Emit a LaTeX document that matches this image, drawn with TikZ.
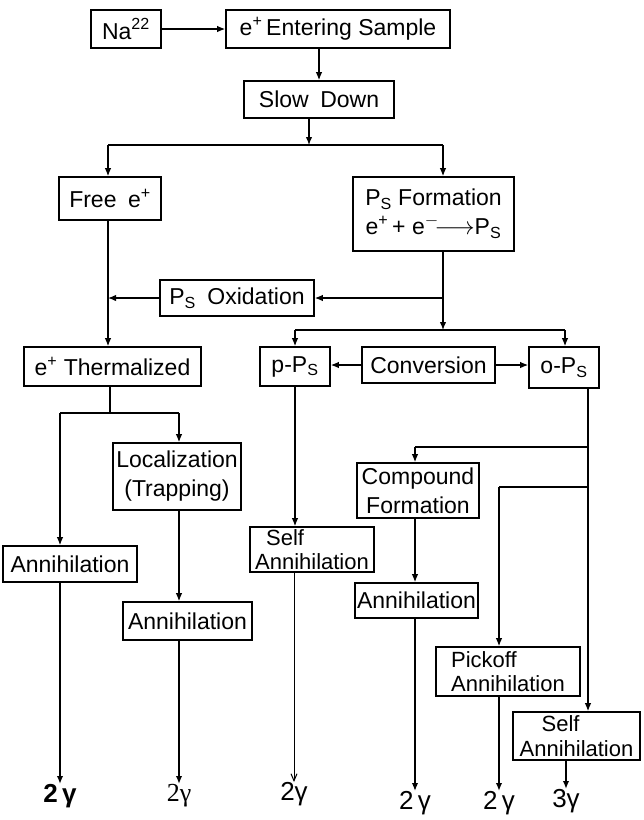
\documentclass[tikz,border=0pt]{standalone}
\usepackage{fontspec}
\setmainfont{Liberation Sans}
\newfontfamily\serifg{Liberation Serif}
\usetikzlibrary{arrows.meta,calc}
\newcommand{\PsT}{P\textsubscript{S}}
\newcommand{\ep}{e\textsuperscript{+}}
\begin{document}
\begin{tikzpicture}[x=1pt,y=-1pt,
  font=\fontsize{23}{24}\selectfont,
  box/.style={draw, line width=1.6pt, inner sep=0pt, align=center},
  twol/.style={font=\fontsize{23}{29}\selectfont},
  tight/.style={font=\fontsize{22}{24.5}\selectfont, align=left},
  conn/.style={line width=1.3pt},
  arr/.style={conn,-{Latex[length=8pt,width=6.5pt]}},
  gl/.style={inner sep=0pt, anchor=north, font=\fontsize{26}{27}\selectfont}]
\useasboundingbox (0,0) rectangle (644,820);

% boxes
\node[box, minimum width=70pt, minimum height=38pt] (na) at (126,29) {Na\textsuperscript{22}};
\node[box, minimum width=224pt, minimum height=38pt] (ent) at (338,29) {\ep\,Entering Sample};
\node[box, minimum width=150pt, minimum height=37pt] (slow) at (319,99.5) {Slow\enspace Down};
\node[box, minimum width=102pt, minimum height=43pt] (free) at (110,198.5) {Free\enspace\ep};
\node[box, twol, minimum width=161pt, minimum height=74pt] (psf) at (433.5,214) {\PsT{} Formation\\\ep\,+ e\textsuperscript{$-$}$\!\longrightarrow$\PsT};
\node[box, minimum width=154pt, minimum height=36pt] (oxi) at (237,298) {\PsT\enspace Oxidation};
\node[box, minimum width=177pt, minimum height=39pt] (therm) at (112.5,366.5) {\ep\ Thermalized};
\node[box, minimum width=70pt, minimum height=39pt] (pps) at (295,366.5) {p-\PsT};
\node[box, minimum width=133pt, minimum height=36pt] (conv) at (428.5,365) {Conversion};
\node[box, minimum width=70pt, minimum height=41pt] (ops) at (564,367.5) {o-\PsT};
\node[box, twol, minimum width=128pt, minimum height=67pt] (loc) at (177,476.5) {Localization\\(Trapping)};
\node[box, minimum width=134pt, minimum height=36pt] (annL) at (70,564) {Annihilation};
\node[box, minimum width=129pt, minimum height=38pt] (annCL) at (187.5,621) {Annihilation};
\node[box, tight, minimum width=124pt, minimum height=45pt] (selfM) at (312,549.5) {\hspace*{0.5em}Self\\Annihilation};
\node[box, twol, minimum width=122pt, minimum height=55pt] (comp) at (418,490.5) {Compound\\Formation};
\node[box, minimum width=123pt, minimum height=35pt] (annMR) at (416.5,600.5) {Annihilation};
\node[box, tight, minimum width=144pt, minimum height=49pt] (pick) at (508,671.5) {Pickoff\\Annihilation};
\node[box, tight, minimum width=127pt, minimum height=48pt] (selfR) at (576.5,736) {\hspace*{1em}Self\\Annihilation};

% gamma labels
\node[gl] (g1) at (60,784) {\bfseries 2\,γ};
\node[gl] (g2) at (179,784) {\serifg 2γ};
\node[gl] (g3) at (294,782) {2γ};
\node[gl] (g4) at (415,791) {2\,γ};
\node[gl] (g5) at (499,791) {2\,γ};
\node[gl] (g6) at (566,789) {3γ};

% junction coordinates
\coordinate (jA) at (309,145);
\coordinate (jAL) at (108,145);
\coordinate (jAR) at (443,145);
\coordinate (jB) at (443,298);
\coordinate (jC) at (108,298);
\coordinate (jD) at (443,330);
\coordinate (jDL) at (295,330);
\coordinate (jDR) at (565,330);
\coordinate (jE) at (110,413);
\coordinate (jEL) at (60,413);
\coordinate (jER) at (179,413);
\coordinate (jF) at (588,447);
\coordinate (jFL) at (415,447);
\coordinate (jG) at (588,487);
\coordinate (jGL) at (499,487);

% connectors
\draw[arr] (na.east) -- (na.east -| ent.west);
\draw[arr] (ent.south -| slow.north) -- (slow.north);
\draw[arr] (slow.south -| jA) -- (jA);
\draw[conn] (jAL) -- (jAR);
\draw[arr] (jAL) -- (jAL |- free.north);
\draw[arr] (jAR) -- (jAR |- psf.north);
\draw[conn] (psf.south -| jB) -- (jB);
\draw[arr] (jB) -- (oxi.east);
\draw[arr] (oxi.west) -- (jC);
\draw[arr] (free.south -| jC) -- (jC |- therm.north);
\draw[arr] (jB) -- (jD);
\draw[conn] (jDL) -- (jDR);
\draw[arr] (jDL) -- (jDL |- pps.north);
\draw[arr] (jDR) -- (jDR |- ops.north);
\draw[arr] (conv.west) -- (conv.west -| pps.east);
\draw[arr] (conv.east) -- (conv.east -| ops.west);
\draw[conn] (therm.south -| jE) -- (jE);
\draw[conn] (jEL) -- (jER);
\draw[arr] (jEL) -- (jEL |- annL.north);
\draw[arr] (jER) -- (jER |- loc.north);
\draw[arr] (loc.south -| jER) -- (jER |- annCL.north);
\draw[arr] (pps.south -| jDL) -- (jDL |- selfM.north);
\draw[conn] (ops.south -| jF) -- (jF) -- (jG);
\draw[arr] (jG) -- (jG |- selfR.north);
\draw[conn] (jF) -- (jFL);
\draw[arr] (jFL) -- (jFL |- comp.north);
\draw[arr] (comp.south -| jFL) -- (jFL |- annMR.north);
\draw[conn] (jG) -- (jGL);
\draw[arr] (jGL) -- (jGL |- pick.north);

% to gammas
\draw[arr, line width=2.3pt] (annL.south -| g1) -- (g1.north);
\draw[arr, line width=1.8pt] (annCL.south -| g2) -- (g2.north);
\draw[conn, line width=1pt, -{Straight Barb[length=7pt,width=6pt]}] (selfM.south -| g3) -- (g3.north);
\draw[arr, line width=1.5pt] (annMR.south -| g4) -- (g4.north);
\draw[arr, line width=1.8pt] (pick.south -| g5) -- (g5.north);
\draw[arr, line width=1.6pt] (selfR.south -| g6) -- (g6.north);
\end{tikzpicture}
\end{document}
